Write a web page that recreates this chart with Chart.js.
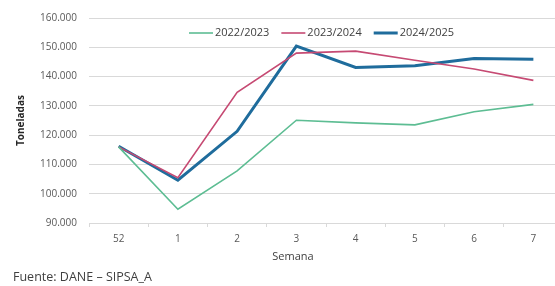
<!DOCTYPE html>
<html>
<head>
<meta charset="utf-8">
<script src="https://cdn.jsdelivr.net/npm/chart.js@4"></script>
<style>
  html, body { margin: 0; padding: 0; background: #fff; overflow: hidden; }
  #wrap { width: 570px; height: 286px; }
</style>
</head>
<body>
<div id="wrap"><canvas id="chart" width="570" height="286"></canvas></div>
<script>
const semanas = ['52', '1', '2', '3', '4', '5', '6', '7'];
const serie2022 = [116000, 94700, 107800, 125100, 124200, 123500, 128000, 130500];
const serie2023 = [116000, 105500, 134600, 148000, 148700, 145600, 142600, 138700];
const serie2024 = [116200, 104600, 121300, 150400, 143100, 143700, 146200, 145900];

const gridColor = '#d9d9d9';
const textColor = '#595959';
const fontFam = '"Open Sans", "Liberation Sans", sans-serif';

function fmt(v) {
    return v.toString().replace(/\B(?=(\d{3})+(?!\d))/g, '.');
}

// legend inside the plot, plus x title and source note
const extraText = {
    id: 'extraText',
    afterDraw(chart) {
        const ctx = chart.ctx;
        ctx.save();
        ctx.textBaseline = 'middle';

        // legend row
        ctx.font = '11px ' + fontFam;
        ctx.textAlign = 'left';
        let x = 189;
        const y = 33;
        chart.data.datasets.forEach(ds => {
            ctx.strokeStyle = ds.borderColor;
            ctx.lineWidth = ds.borderWidth;
            ctx.beginPath();
            ctx.moveTo(x, y);
            ctx.lineTo(x + 24, y);
            ctx.stroke();
            ctx.fillStyle = '#404040';
            ctx.fillText(ds.label, x + 26, y);
            x += 26 + ctx.measureText(ds.label).width + 12;
        });

        ctx.fillStyle = '#404040';
        ctx.font = '11px ' + fontFam;
        ctx.textAlign = 'center';
        ctx.fillText('Semana', 293, 257);
        ctx.font = '12.5px ' + fontFam;
        ctx.textAlign = 'left';
        ctx.fillText('Fuente: DANE – SIPSA_A', 13, 277);
        ctx.restore();
    }
};

new Chart(document.getElementById('chart'), {
    type: 'line',
    data: {
        labels: semanas,
        datasets: [
            { label: '2022/2023', data: serie2022, borderColor: '#5dbd93', borderWidth: 1.6 },
            { label: '2023/2024', data: serie2023, borderColor: '#c64a73', borderWidth: 1.6 },
            { label: '2024/2025', data: serie2024, borderColor: '#1f6c9c', borderWidth: 3 }
        ]
    },
    options: {
        responsive: false,
        animation: false,
        elements: {
            point: { radius: 0 },
            line: { tension: 0, fill: false }
        },
        layout: { padding: { top: 15, right: 7, left: 0, bottom: 0 } },
        plugins: {
            tooltip: { enabled: false },
            legend: { display: false }
        },
        scales: {
            x: {
                offset: true,
                afterFit(scale) { scale.height = 63; },
                grid: {
                    offset: true,
                    drawOnChartArea: false,
                    drawTicks: true,
                    tickLength: 4,
                    color: gridColor
                },
                border: { display: true, color: gridColor },
                ticks: {
                    color: textColor,
                    padding: 6,
                    font: { size: 10, family: fontFam }
                }
            },
            y: {
                min: 90000,
                max: 160000,
                afterFit(scale) { scale.width = 89; },
                grid: { color: gridColor, drawTicks: false },
                border: { display: false },
                ticks: {
                    stepSize: 10000,
                    padding: 12,
                    color: textColor,
                    font: { size: 10, family: fontFam },
                    callback: v => fmt(v)
                },
                title: {
                    display: true,
                    text: 'Toneladas',
                    color: '#262626',
                    padding: { top: 15, bottom: 0 },
                    font: { size: 10, weight: 'bold', family: fontFam }
                }
            }
        }
    },
    plugins: [extraText]
});
</script>
</body>
</html>
